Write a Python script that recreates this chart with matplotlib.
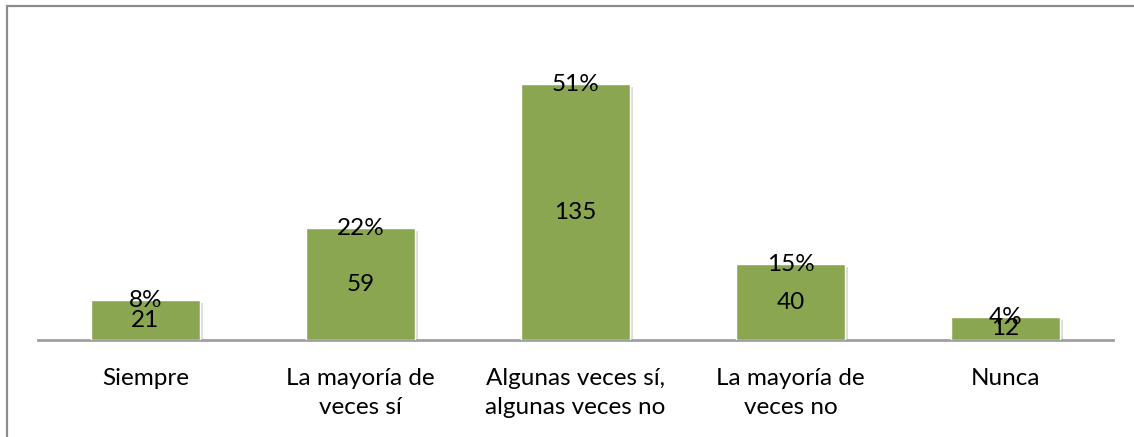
import matplotlib.pyplot as plt
import matplotlib.patheffects as pe
from matplotlib.patches import Rectangle

#------------ data --------------------
categories = ["Siempre", "La mayoría de\nveces sí", "Algunas veces sí,\nalgunas veces no",
              "La mayoría de\nveces no", "Nunca"]
counts = [21, 59, 135, 40, 12]
percents = ["8%", "22%", "51%", "15%", "4%"]

plt.rcParams['font.family'] = ['Lato', 'DejaVu Sans']

fig = plt.figure(figsize=(11.34, 4.37), dpi=100)
W, H = 1134, 437

# outer chart frame (cropped on right/bottom in the reference)
fig.patches.append(Rectangle((7 / W, -0.1), 1.2, (H - 6.5) / H + 0.1, transform=fig.transFigure,
                             fill=False, edgecolor='#8c8c8c', linewidth=1.6))

ax = fig.add_axes([38 / W, (H - 340) / H, (1113 - 38) / W, (340 - 56) / H])
x = range(len(categories))
bars = ax.bar(x, counts, width=0.51, color='#8ba650', edgecolor='white', linewidth=1,
              zorder=3)
for b in bars:
    b.set_path_effects([pe.SimplePatchShadow(offset=(2, -2), shadow_rgbFace='#999999', alpha=0.35),
                        pe.Normal()])

ax.set_xlim(-0.5, len(categories) - 0.5)
ax.set_ylim(0, 150)

fs = 17.5
for i, (c, p) in enumerate(zip(counts, percents)):
    ax.text(i, c / 2, str(c), ha='center', va='center', fontsize=fs, zorder=4)
    ax.text(i, c, p, ha='center', va='center', fontsize=fs, zorder=4)

ax.set_xticks(list(x))
ax.set_xticklabels(categories, fontsize=fs, linespacing=1.5)
ax.tick_params(axis='x', length=0, pad=20)
ax.set_yticks([])
for s in ['top', 'right', 'left']:
    ax.spines[s].set_visible(False)
ax.spines['bottom'].set_color('#a0a0a0')
ax.spines['bottom'].set_linewidth(2)

plt.savefig('out.png', dpi=100)
